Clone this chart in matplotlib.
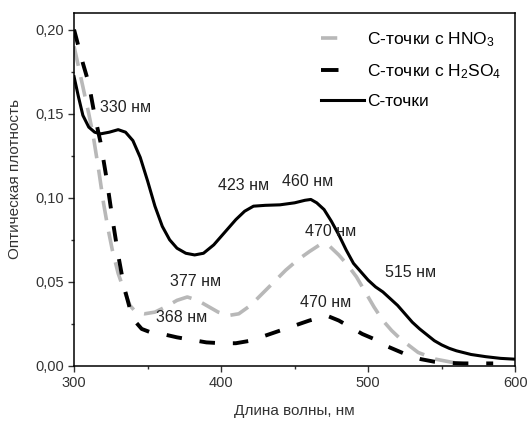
import matplotlib
matplotlib.use("Agg")
import matplotlib.pyplot as plt
from matplotlib.lines import Line2D
from matplotlib.ticker import MultipleLocator, FuncFormatter

plt.rcParams['font.family'] = ['Liberation Sans', 'DejaVu Sans']
plt.rcParams['mathtext.default'] = 'regular'

# С-точки (solid)
wl_c = [300, 303, 306, 310, 314, 318, 324, 330, 335, 340, 345, 350, 355, 360, 365, 370,
        376, 382, 388, 395, 402, 410, 416, 422, 430, 440, 450, 457, 461, 465, 470, 475,
        480, 485, 490, 495, 500, 505, 510, 515, 520, 525, 530, 535, 540, 545, 550, 555,
        560, 570, 580, 590, 600]
ab_c = [0.172, 0.160, 0.149, 0.142, 0.139, 0.138, 0.139, 0.1405, 0.139, 0.134, 0.124, 0.110,
        0.095, 0.083, 0.075, 0.070, 0.067, 0.066, 0.067, 0.072, 0.079, 0.087, 0.092, 0.095,
        0.0955, 0.0958, 0.097, 0.0985, 0.099, 0.097, 0.093, 0.086, 0.078, 0.069, 0.061,
        0.056, 0.051, 0.047, 0.044, 0.040, 0.036, 0.031, 0.026, 0.022, 0.0185, 0.015,
        0.0125, 0.0105, 0.009, 0.0068, 0.0055, 0.0045, 0.004]

# С-точки с HNO3 (gray dashed)
wl_n = [300, 303, 306, 310, 313, 317, 320, 323, 326, 330, 334, 338, 342, 348, 355, 362,
        370, 377, 384, 390, 398, 405, 412, 420, 428, 436, 444, 452, 460, 467, 474, 480,
        486, 492, 498, 504, 510, 516, 522, 528, 534, 540, 546, 552, 558, 565]
ab_n = [0.190, 0.178, 0.166, 0.150, 0.137, 0.115, 0.097, 0.082, 0.069, 0.055, 0.045, 0.036,
        0.032, 0.031, 0.032, 0.035, 0.039, 0.041, 0.039, 0.036, 0.032, 0.030, 0.031, 0.036,
        0.043, 0.050, 0.057, 0.063, 0.068, 0.072, 0.071, 0.066, 0.060, 0.053, 0.044, 0.035,
        0.027, 0.021, 0.016, 0.012, 0.008, 0.006, 0.004, 0.003, 0.002, 0.0015]

# С-точки с H2SO4 (black dashed)
wl_s = [300, 303, 306, 310, 314, 318, 322, 326, 330, 334, 338, 342, 346, 352, 360, 370,
        380, 390, 400, 410, 420, 430, 440, 450, 460, 468, 473, 480, 488, 496, 504, 512,
        520, 528, 536, 545, 555, 565, 575, 585]
ab_s = [0.200, 0.190, 0.180, 0.168, 0.149, 0.133, 0.112, 0.088, 0.066, 0.047, 0.034, 0.026,
        0.022, 0.020, 0.019, 0.017, 0.0155, 0.014, 0.0135, 0.0135, 0.015, 0.018, 0.021,
        0.024, 0.027, 0.029, 0.0295, 0.027, 0.023, 0.019, 0.016, 0.012, 0.009, 0.006,
        0.004, 0.0025, 0.0018, 0.0015, 0.0015, 0.0015]

labels = ["С-точки с HNO$_3$", "С-точки с H$_2$SO$_4$", "С-точки"]

ann_text = ["330 нм", "423 нм", "460 нм", "470 нм", "515 нм", "377 нм", "368 нм", "470 нм"]
ann_x = [317.5, 398, 441.5, 457, 511.5, 365, 356, 453.5]
ann_y = [0.1536, 0.107, 0.1095, 0.080, 0.0554, 0.050, 0.0286, 0.038]

fig = plt.figure(figsize=(5.29, 4.26), dpi=100)
ax = fig.add_axes([0.140, 0.141, 0.834, 0.829])

GRAY = '#b8b8b8'
ax.plot(wl_n, ab_n, color=GRAY, lw=2.6, dashes=(5.5, 3.2))
ax.plot(wl_s, ab_s, color='black', lw=2.8, dashes=(4.0, 4.6))
ax.plot(wl_c, ab_c, color='black', lw=2.2)

for t, x, y in zip(ann_text, ann_x, ann_y):
    ax.text(x, y, t, fontsize=11.5, ha='left', va='center', color='#222222')

ax.set_xlim(300, 600)
ax.set_ylim(0, 0.21)
ax.xaxis.set_major_locator(MultipleLocator(100))
ax.xaxis.set_minor_locator(MultipleLocator(50))
ax.yaxis.set_major_locator(MultipleLocator(0.05))
ax.yaxis.set_minor_locator(MultipleLocator(0.025))
ax.yaxis.set_major_formatter(FuncFormatter(lambda v, p: f"{v:.2f}".replace('.', ',')))
ax.tick_params(which='both', direction='out', labelsize=10.5, colors='#333333')
ax.tick_params(which='major', length=4, width=1)
ax.tick_params(which='minor', length=2.5, width=1)
for s in ax.spines.values():
    s.set_linewidth(1.1)

ax.set_xlabel("Длина волны, нм", fontsize=11, color='#333333', labelpad=10)
ax.set_ylabel("Оптическая плотность", fontsize=11, color='#333333')
ax.yaxis.set_label_coords(-0.118, 0.53)

handles = [Line2D([], [], color=GRAY, lw=2.6, dashes=(4.5, 20)),
           Line2D([], [], color='black', lw=2.8, dashes=(4.5, 20)),
           Line2D([], [], color='black', lw=2.2)]
ax.legend(handles, labels, loc='upper right', frameon=False, fontsize=12.5, handlelength=2.5,
          handletextpad=0.15, labelspacing=0.75, bbox_to_anchor=(1.0, 0.99),
          borderaxespad=0.4)

fig.savefig("out.png", dpi=100)
